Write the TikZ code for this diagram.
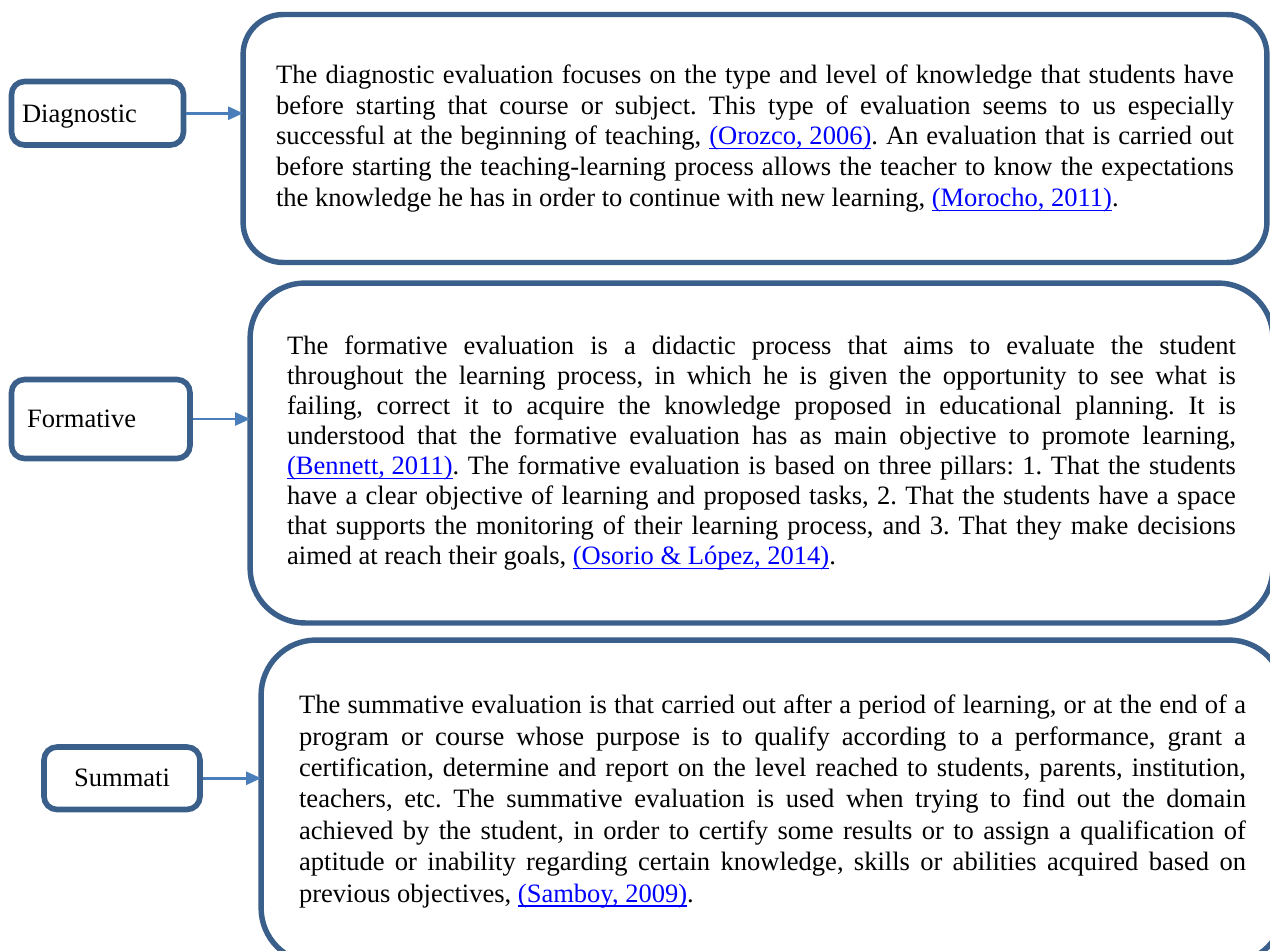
\documentclass[tikz,border=0pt]{standalone}
\usepackage{fontspec}
\setmainfont{Liberation Serif}
\usepackage{xcolor}
\usepackage{tikz}
\usetikzlibrary{arrows.meta}
\definecolor{boxblue}{HTML}{3A5F8B}
\definecolor{arrowblue}{HTML}{4A7EBB}
\definecolor{linkblue}{HTML}{0000FF}
\newcommand{\reflink}[1]{\textcolor{linkblue}{\setbox0\hbox{#1}\rlap{\rule[-0.17em]{\wd0}{0.055em}}\box0}}
\tolerance=10000
\hbadness=10000
\hyphenpenalty=10000
\frenchspacing

\begin{document}
\begin{tikzpicture}[x=0.02cm, y=-0.02cm,
  tag/.style={draw=boxblue, line width=3.2pt, rounded corners=0.26cm, font=\fontsize{15.1}{17.5}\selectfont},
  panel/.style={draw=boxblue, line width=3.1pt, rounded corners=#1, outer sep=0pt, inner xsep=0pt, align=justify},
  panel/.default=1.1cm,
  link/.style={draw=arrowblue, line width=1.5pt, -{Triangle[length=0.3cm,width=0.26cm]}}]
 \useasboundingbox (0,0) rectangle (1270,950);
 \clip (0,0) rectangle (1270,950);
 % the three kinds of evaluation
 \node[tag, text width=3.02cm, inner xsep=0.21cm, minimum height=1.27cm, text depth=0pt, align=left] (diag) at (97.5,113.25) {Diagnostic};
 \node[tag, text width=2.95cm, inner xsep=0.31cm, minimum height=1.58cm, align=left] (form) at (100.75,419) {Formative};
 \node[tag, minimum width=3.12cm, minimum height=1.25cm] (summ) at (122,778.25) {Summati};
 % what each one is
 \node[panel=0.8cm, minimum width=20.48cm, minimum height=4.96cm, text width=19.16cm,
   font=\fontsize{15.1}{17.5}\selectfont] (diagbox) at (755,138.5)
  {The diagnostic evaluation focuses on the type and level of knowledge that students have\linebreak
   before starting that course or subject. This type of evaluation seems to us especially\linebreak
   successful at the beginning of teaching, \reflink{(Orozco, 2006)}. An evaluation that is carried out\linebreak
   before starting the teaching-learning process allows the teacher to know the expectations\linebreak
   the knowledge he has in order to continue with new learning, \reflink{(Morocho, 2011)}.};
 \node[panel, minimum width=20.46cm, minimum height=6.8cm, text width=18.98cm,
   font=\fontsize{15.1}{17.07}\selectfont] (formbox) at (761.5,453)
  {The formative evaluation is a didactic process that aims to evaluate the student\linebreak
   throughout the learning process, in which he is given the opportunity to see what is\linebreak
   failing, correct it to acquire the knowledge proposed in educational planning. It is\linebreak
   understood that the formative evaluation has as main objective to promote learning,\linebreak
   \reflink{(Bennett, 2011)}. The formative evaluation is based on three pillars: 1. That the students\linebreak
   have a clear objective of learning and proposed tasks, 2. That the students have a space\linebreak
   that supports the monitoring of their learning process, and 3. That they make decisions\linebreak
   aimed at reach their goals, \reflink{(Osorio \& López, 2014)}.};
 \node[panel, minimum width=20.46cm, minimum height=6.46cm, text width=18.94cm,
   font=\fontsize{15.1}{17.9}\selectfont] (summbox) at (772.5,801.5)
  {The summative evaluation is that carried out after a period of learning, or at the end of a\linebreak
   program or course whose purpose is to qualify according to a performance, grant a\linebreak
   certification, determine and report on the level reached to students, parents, institution,\linebreak
   teachers, etc. The summative evaluation is used when trying to find out the domain\linebreak
   achieved by the student, in order to certify some results or to assign a qualification of\linebreak
   aptitude or inability regarding certain knowledge, skills or abilities acquired based on\linebreak
   previous objectives, \reflink{(Samboy, 2009)}.};
 \foreach \s/\t in {diag/diagbox, form/formbox, summ/summbox}
   \draw[link] (\s.east) -- (\s.east -| \t.west);
\end{tikzpicture}
\end{document}
